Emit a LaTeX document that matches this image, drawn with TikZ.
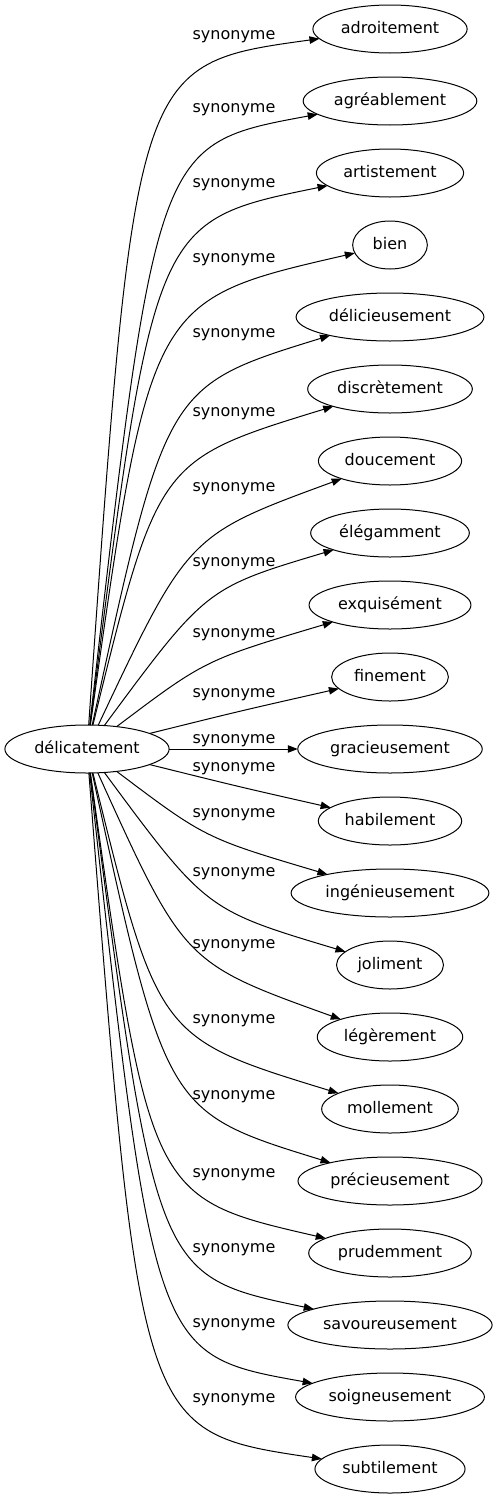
\documentclass[tikz,border=0pt]{standalone}
\usepackage{fontspec}
\setmainfont{DejaVu Sans}
\usepackage{tikz}
\usetikzlibrary{positioning,arrows.meta,shapes.geometric}

\begin{document}
\begin{tikzpicture}[x=0.75pt,y=-0.75pt,node distance=18pt,
    >={Triangle[length=7.5pt,width=5.6pt]}]
  \tikzstyle{mot}=[draw,ellipse,line width=0.75pt,outer sep=0pt,
    inner xsep=4pt,inner ysep=1pt,minimum height=36pt,minimum width=56pt,
    text height=9pt,text depth=2.5pt,font=\fontsize{12}{14}\selectfont]
  \tikzstyle{syn}=[anchor=base,inner sep=0pt,font=\fontsize{12}{14}\selectfont]
  \tikzstyle{lien}=[->,line width=0.75pt]
  \useasboundingbox (0,0) rectangle (493,1499);
  \node[mot] (d) at (87,749) {délicatement};
  \node[mot] (s1) at (390,29) {adroitement};
  \node[mot,below=of s1] (s2) {agréablement};
  \node[mot,below=of s2] (s3) {artistement};
  \node[mot,below=of s3] (s4) {bien};
  \node[mot,below=of s4] (s5) {délicieusement};
  \node[mot,below=of s5] (s6) {discrètement};
  \node[mot,below=of s6] (s7) {doucement};
  \node[mot,below=of s7] (s8) {élégamment};
  \node[mot,below=of s8] (s9) {exquisément};
  \node[mot,below=of s9] (s10) {finement};
  \node[mot,below=of s10] (s11) {gracieusement};
  \node[mot,below=of s11] (s12) {habilement};
  \node[mot,below=of s12] (s13) {ingénieusement};
  \node[mot,below=of s13] (s14) {joliment};
  \node[mot,below=of s14] (s15) {légèrement};
  \node[mot,below=of s15] (s16) {mollement};
  \node[mot,below=of s16] (s17) {précieusement};
  \node[mot,below=of s17] (s18) {prudemment};
  \node[mot,below=of s18] (s19) {savoureusement};
  \node[mot,below=of s19] (s20) {soigneusement};
  \node[mot,below=of s20] (s21) {subtilement};
  % edges
  \draw[lien] (d) .. controls (135,64) .. (s1);
  \draw[lien] (d) .. controls (156,144) .. (s2);
  \draw[lien] (d) .. controls (154,221) .. (s3);
  \draw[lien] (d) .. controls (150,300) .. (s4);
  \draw[lien] (d) .. controls (166,386) .. (s5);
  \draw[lien] (d) .. controls (158,460) .. (s6);
  \draw[lien] (d) .. controls (188,535) .. (s7);
  \draw[lien] (d) .. controls (206,588) .. (s8);
  \draw[lien] (d) .. controls (205,660) .. (s9);
  \draw[lien] (d) .. controls (240,711) .. (s10);
  \draw[lien] (d) -- (s11);
  \draw[lien] (d) .. controls (240,787) .. (s12);
  \draw[lien] (d) .. controls (205,838) .. (s13);
  \draw[lien] (d) .. controls (206,910) .. (s14);
  \draw[lien] (d) .. controls (184,963) .. (s15);
  \draw[lien] (d) .. controls (158,1038) .. (s16);
  \draw[lien] (d) .. controls (166,1112) .. (s17);
  \draw[lien] (d) .. controls (150,1198) .. (s18);
  \draw[lien] (d) .. controls (156,1276) .. (s19);
  \draw[lien] (d) .. controls (154,1355) .. (s20);
  \draw[lien] (d) .. controls (140,1432) .. (s21);
  % labels
  \node[syn] (l1) at (234,39) {synonyme};
  \node[syn] (l2) at (234,112) {synonyme};
  \node[syn] (l3) at (234,187) {synonyme};
  \node[syn] (l4) at (234,262) {synonyme};
  \node[syn] (l5) at (234,337) {synonyme};
  \node[syn] (l6) at (234,416) {synonyme};
  \node[syn] (l7) at (234,491) {synonyme};
  \node[syn] (l8) at (234,566) {synonyme};
  \node[syn] (l9) at (234,637) {synonyme};
  \node[syn] (l10) at (234,697) {synonyme};
  \node[syn] (l11) at (234,743) {synonyme};
  \node[syn] (l12) at (234,771) {synonyme};
  \node[syn] (l13) at (234,817) {synonyme};
  \node[syn] (l14) at (234,876) {synonyme};
  \node[syn] (l15) at (234,948) {synonyme};
  \node[syn] (l16) at (234,1023) {synonyme};
  \node[syn] (l17) at (234,1099) {synonyme};
  \node[syn] (l18) at (234,1177) {synonyme};
  \node[syn] (l19) at (234,1252) {synonyme};
  \node[syn] (l20) at (234,1327) {synonyme};
  \node[syn] (l21) at (234,1402) {synonyme};
\end{tikzpicture}
\end{document}
